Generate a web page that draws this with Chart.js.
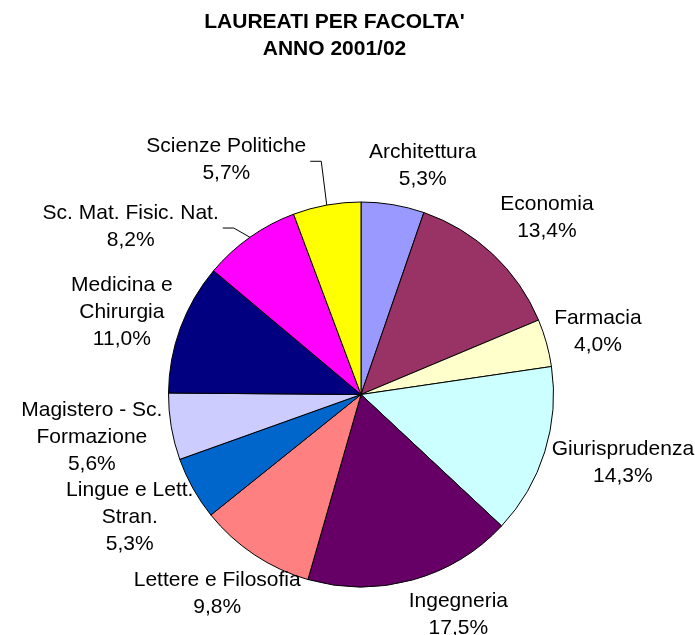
<!DOCTYPE html>
<html>
<head>
<meta charset="utf-8">
<script src="https://cdn.jsdelivr.net/npm/chart.js@4.4.1/dist/chart.umd.min.js"></script>
<style>
  html, body { margin: 0; padding: 0; background: #fff; }
  #wrap { position: relative; width: 695px; height: 635px; }
</style>
</head>
<body>
<div id="wrap"><canvas id="myChart" width="695" height="635"></canvas></div>
<script>
const titleLines = ["LAUREATI PER FACOLTA'", 'ANNO 2001/02'];
const faculties = [
  ['Architettura'],
  ['Economia'],
  ['Farmacia'],
  ['Giurisprudenza'],
  ['Ingegneria'],
  ['Lettere e Filosofia'],
  ['Lingue e Lett.', 'Stran.'],
  ['Magistero - Sc.', 'Formazione'],
  ['Medicina e', 'Chirurgia'],
  ['Sc. Mat. Fisic. Nat.'],
  ['Scienze Politiche']
];
const percentages = [5.3, 13.4, 4.0, 14.3, 17.5, 9.8, 5.3, 5.6, 11.0, 8.2, 5.7];
const sliceColors = ['#9999FF', '#993366', '#FFFFCC', '#CCFFFF', '#660066', '#FF8080',
                     '#0066CC', '#CCCCFF', '#000080', '#FF00FF', '#FFFF00'];

// label tweaks (px) relative to the default outside placement
const labelNudge = [[18, 5], [10, -4], [-8, 1], [-7, -3], [28, -9], [19, 1],
                    [8, 0], [8, 1], [6, 4], [-58, 26], [-83, -1]];

const FONT = '21px "Liberation Sans", Arial, sans-serif';
const LINE_H = 27;

const outsideLabels = {
  id: 'outsideLabels',
  afterDatasetsDraw(chart) {
    const ctx = chart.ctx;
    const arcs = chart.getDatasetMeta(0).data;
    ctx.save();
    ctx.font = FONT;
    ctx.fillStyle = '#000';
    ctx.strokeStyle = '#000';
    ctx.lineWidth = 1;
    ctx.textAlign = 'center';
    ctx.textBaseline = 'middle';
    arcs.forEach((arc, i) => {
      const lines = faculties[i].concat(percentages[i].toFixed(1).replace('.', ',') + '%');
      const a = (arc.startAngle + arc.endAngle) / 2;
      const dx = Math.cos(a), dy = Math.sin(a);
      const w = Math.max(...lines.map(l => ctx.measureText(l).width));
      const h = lines.length * LINE_H;
      const r = arc.outerRadius + 18;
      const cx = arc.x + dx * r + dx * w / 2 + labelNudge[i][0];
      const cy = arc.y + dy * r + dy * h / 2 + labelNudge[i][1];
      lines.forEach((l, k) => {
        ctx.fillText(l, cx, cy + (k - (lines.length - 1) / 2) * LINE_H);
      });
      // leader line for labels pushed away from their slice
      if (Math.abs(labelNudge[i][0]) > 30) {
        const sx = cx + w / 2 + 4;
        const sy = cy + 1.5;
        ctx.beginPath();
        ctx.moveTo(sx, sy);
        ctx.lineTo(sx + 11, sy);
        ctx.lineTo(arc.x + dx * arc.outerRadius, arc.y + dy * arc.outerRadius);
        ctx.stroke();
      }
    });
    // title
    ctx.font = 'bold 21px "Liberation Sans", Arial, sans-serif';
    ctx.fillText(titleLines[0], 334.5, 22);
    ctx.fillText(titleLines[1], 334.5, 49);
    ctx.restore();
  }
};

new Chart(document.getElementById('myChart'), {
  type: 'pie',
  data: {
    labels: faculties,
    datasets: [{
      data: percentages,
      backgroundColor: sliceColors,
      borderColor: '#000',
      borderWidth: 1
    }]
  },
  options: {
    responsive: false,
    animation: false,
    layout: { padding: { left: 168, right: 141, top: 201, bottom: 47 } },
    plugins: {
      legend: { display: false },
      tooltip: { enabled: false },
      title: { display: false }
    }
  },
  plugins: [outsideLabels]
});
</script>
</body>
</html>
